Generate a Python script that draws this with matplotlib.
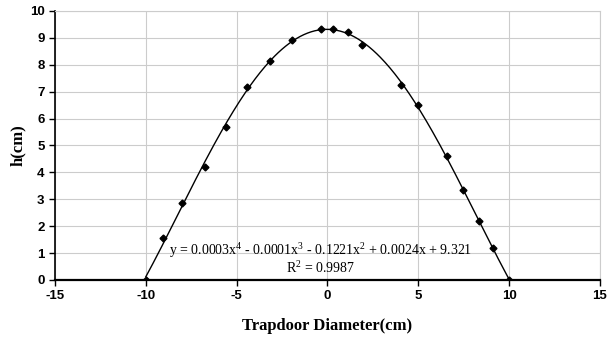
import numpy as np
import matplotlib
matplotlib.use("Agg")
import matplotlib.pyplot as plt

diameter = [-10.0, -9.04, -7.99, -6.76, -5.59, -4.45, -3.16, -1.95, -0.37,
            0.32, 1.11, 1.92, 4.04, 5.0, 6.58, 7.44, 8.32, 9.13, 10.0]
height = [0.0, 1.55, 2.87, 4.19, 5.68, 7.16, 8.14, 8.92, 9.33,
          9.33, 9.21, 8.74, 7.25, 6.49, 4.61, 3.35, 2.18, 1.2, 0.0]

eq_text = "y = 0.0003x$^4$ - 0.0001x$^3$ - 0.1221x$^2$ + 0.0024x + 9.321\nR$^2$ = 0.9987"

plt.rcParams["axes.unicode_minus"] = False
plt.rcParams["mathtext.fontset"] = "custom"
plt.rcParams["mathtext.rm"] = "Liberation Serif"
plt.rcParams["mathtext.default"] = "rm"

fig = plt.figure(figsize=(6.16, 3.38), dpi=100)
ax = fig.add_axes([0.0893, 0.1716, 0.8847, 0.7959])

# 4th order trendline through the points
coef = np.polyfit(diameter, height, 4)
xs = np.linspace(-10, 10, 300)
ax.plot(xs, np.polyval(coef, xs), color="black", lw=1.0, zorder=3)
ax.plot(diameter, height, "D", color="black", ms=3.5, zorder=4)

ax.set_xlim(-15, 15)
ax.set_ylim(0, 10)
ax.set_xticks(range(-15, 16, 5))
ax.set_yticks(range(0, 11))
ax.grid(True, color="#cccccc", lw=0.8)
ax.set_axisbelow(True)

for side in ["top", "right"]:
    ax.spines[side].set_color("#cccccc")
    ax.spines[side].set_linewidth(0.8)
ax.spines["left"].set_linewidth(1.2)
ax.spines["bottom"].set_linewidth(1.6)

ax.tick_params(direction="out", length=4, width=1, labelsize=9.5)
for lab in ax.get_xticklabels() + ax.get_yticklabels():
    lab.set_fontfamily("Liberation Sans")
    lab.set_fontweight("bold")

ax.set_xlabel("Trapdoor Diameter(cm)", family="Liberation Serif",
              fontweight="bold", fontsize=12, labelpad=11)
ax.set_ylabel("h(cm)", family="Liberation Serif", fontweight="bold",
              fontsize=12, labelpad=3)

ax.text(-0.4, 0.8, eq_text, ha="center", va="center", family="Liberation Serif",
        fontsize=10, linespacing=1.0, zorder=5)

fig.savefig("out.png", dpi=100)
